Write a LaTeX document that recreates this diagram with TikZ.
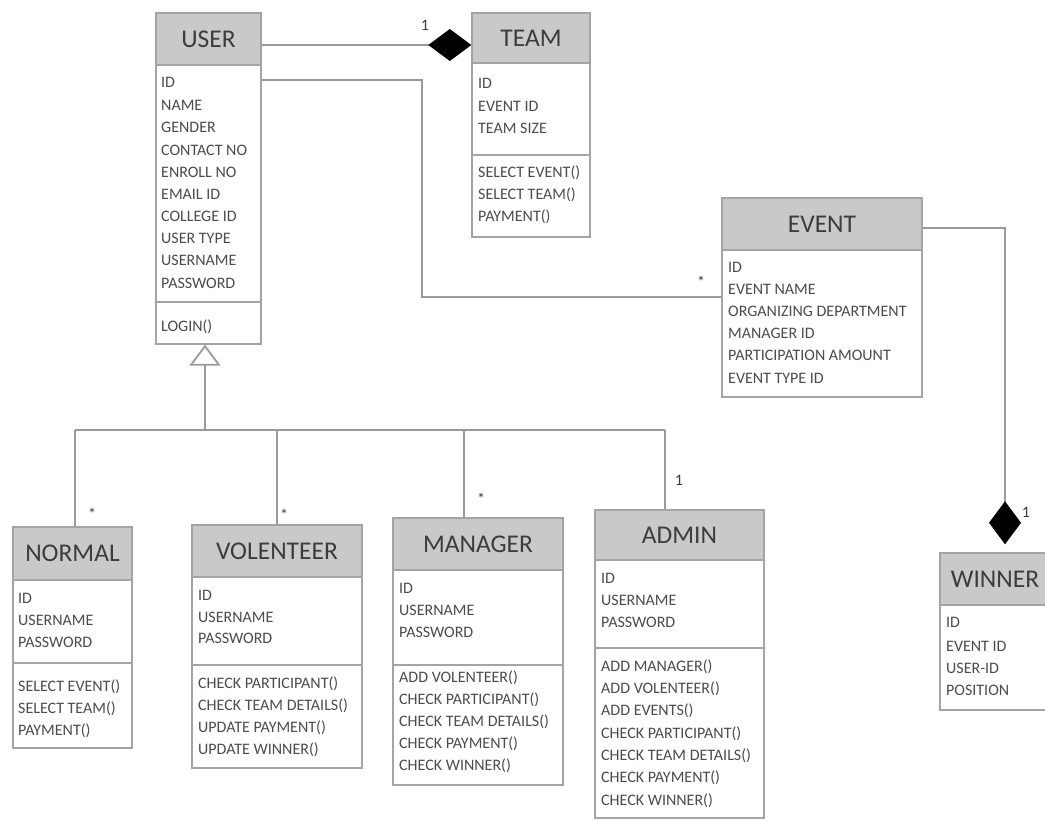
\documentclass[tikz,border=0pt]{standalone}
\usepackage{fontspec}
\setmainfont{Carlito}
\usetikzlibrary{arrows.meta,fit}

\definecolor{boxline}{HTML}{A4A4A4}
\definecolor{headfill}{HTML}{C9C9C9}
\definecolor{headtext}{HTML}{3C3C3C}
\definecolor{attrtext}{HTML}{4C4C4C}
\definecolor{linkgray}{HTML}{9A9A9A}

% one class: name, left, top, right, header bottom, bottom, title
\newcommand\umlclass[7]{%
  \node[classbox, fit={(#2,#3) (#4,#6)}] (#1) {};
  \node[headbox, fit={(#2,#3) (#4,#5)}] (#1-head) {};
  \node[classtitle] (#1-title) at (#1-head.center) {#7};
}
% compartment separator of a class at height #2
\newcommand\umlsep[2]{%
  \coordinate (#1-sep) at (0,#2);
  \draw[sepline] (#1.west |- #1-sep) -- (#1.east |- #1-sep);
}

\begin{document}
\begin{tikzpicture}[x=1pt,y=-1pt,
  classbox/.style={draw=boxline, line width=1.4pt, fill=white, inner sep=0pt},
  headbox/.style={draw=boxline, line width=1.4pt, fill=headfill, inner sep=0pt},
  classtitle/.style={inner sep=0pt, text=headtext, font=\fontsize{25.5}{25.5}\selectfont},
  attr/.style={anchor=west, inner sep=0pt, text=attrtext, font=\fontsize{16}{16}\selectfont},
  sepline/.style={draw=boxline, line width=1.4pt},
  link/.style={draw=linkgray, line width=1.8pt},
  mult/.style={inner sep=0pt, text=headtext, font=\fontsize{16}{16}\selectfont},
  composition/.style={-{Diamond[length=43pt,width=32pt,fill=black,line width=0pt]}},
  generalization/.style={-{Triangle[open,length=21pt,width=31pt,fill=white]}}
]
\useasboundingbox[fill=white] (0,0) rectangle (1045,821);

% ---------- classes ----------
\umlclass{user}{156}{13}{261}{65}{344}{USER}
\umlsep{user}{302}
\foreach \t/\y [count=\i] in {ID/82, NAME/105, GENDER/127, CONTACT NO/150, ENROLL NO/172,
    EMAIL ID/194, COLLEGE ID/216, USER TYPE/238, USERNAME/260, PASSWORD/283, LOGIN()/327}
  \node[attr] (user-a\i) at (161,\y) {\t};

\umlclass{team}{472}{13}{590}{63}{237}{TEAM}
\umlsep{team}{155}
\foreach \t/\y [count=\i] in {ID/83, EVENT ID/106, TEAM SIZE/128,
    SELECT EVENT()/173, SELECT TEAM()/195, PAYMENT()/217}
  \node[attr] (team-a\i) at (478,\y) {\t};

\umlclass{event}{722}{198}{922}{250}{397}{EVENT}
\foreach \t/\y [count=\i] in {ID/267, EVENT NAME/289, ORGANIZING DEPARTMENT/311,
    MANAGER ID/333, PARTICIPATION AMOUNT/355, EVENT TYPE ID/378}
  \node[attr] (event-a\i) at (728,\y) {\t};

\umlclass{normal}{13}{527}{132}{580}{748}{NORMAL}
\umlsep{normal}{663}
\foreach \t/\y [count=\i] in {ID/598, USERNAME/620, PASSWORD/642,
    SELECT EVENT()/687, SELECT TEAM()/709, PAYMENT()/731}
  \node[attr] (normal-a\i) at (18,\y) {\t};

\umlclass{volenteer}{192}{525}{362}{577}{768}{VOLENTEER}
\umlsep{volenteer}{665}
\foreach \t/\y [count=\i] in {ID/595, USERNAME/617, PASSWORD/638,
    CHECK PARTICIPANT()/684, CHECK TEAM DETAILS()/706, UPDATE PAYMENT()/728, UPDATE WINNER()/750}
  \node[attr] (volenteer-a\i) at (198,\y) {\t};

\umlclass{manager}{393}{518}{563}{570}{785}{MANAGER}
\umlsep{manager}{665}
\foreach \t/\y [count=\i] in {ID/588, USERNAME/610, PASSWORD/632,
    ADD VOLENTEER()/678, CHECK PARTICIPANT()/700, CHECK TEAM DETAILS()/722,
    CHECK PAYMENT()/744, CHECK WINNER()/766}
  \node[attr] (manager-a\i) at (399,\y) {\t};

\umlclass{admin}{595}{510}{764}{560}{818}{ADMIN}
\umlsep{admin}{648}
\foreach \t/\y [count=\i] in {ID/578, USERNAME/600, PASSWORD/622,
    ADD MANAGER()/667, ADD VOLENTEER()/689, ADD EVENTS()/711, CHECK PARTICIPANT()/734,
    CHECK TEAM DETAILS()/756, CHECK PAYMENT()/778, CHECK WINNER()/801}
  \node[attr] (admin-a\i) at (601,\y) {\t};

\umlclass{winner}{940}{553}{1050}{605}{710}{WINNER}
\foreach \t/\y [count=\i] in {ID/622, EVENT ID/646, USER-ID/668, POSITION/690}
  \node[attr] (winner-a\i) at (946,\y) {\t};

% ---------- associations ----------
% USER -- TEAM (composition)
\coordinate (ut) at (0,45);
\draw[link, composition] (user.east |- ut) -- (team.west |- ut);
\node[mult] (m-team) at (425,25) {1};

% USER -- EVENT
\coordinate (ue1) at (422,80);
\coordinate (ue2) at (422,297);
\draw[link] (user.east |- ue1) -- (ue1) -- (ue2) -- (event.west |- ue2);
\node[mult] (m-event) at (701,282) {*};

% EVENT -- WINNER (composition)
\coordinate (ew1) at (1005,228);
\draw[link, composition, shorten >=8pt] (event.east |- ew1) -- (ew1) -- (ew1 |- winner.north);
\node[mult] (m-winner) at (1026,512) {1};

% ---------- generalization ----------
\coordinate (bus) at (205,430);
\coordinate (b1) at (75,430);
\coordinate (b2) at (277,430);
\coordinate (b3) at (464,430);
\coordinate (b4) at (665,430);
\draw[link] (b1) -- (b4);
\draw[link, generalization] (bus) -- (bus |- user.south);
\draw[link] (b1) -- (b1 |- normal.north);
\draw[link] (b2) -- (b2 |- volenteer.north);
\draw[link] (b3) -- (b3 |- manager.north);
\draw[link] (b4) -- (b4 |- admin.north);
\node[mult] (m-normal) at (92,514) {*};
\node[mult] (m-volenteer) at (284,515) {*};
\node[mult] (m-manager) at (481,499) {*};
\node[mult] (m-admin) at (679,480) {1};
\end{tikzpicture}
\end{document}
